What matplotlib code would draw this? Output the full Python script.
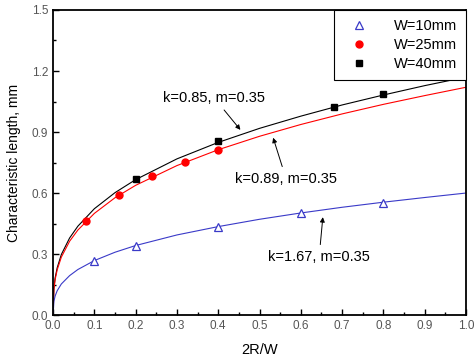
import numpy as np
import matplotlib
matplotlib.use("Agg")
import matplotlib.pyplot as plt
from matplotlib.ticker import MultipleLocator

plt.rcParams["font.family"] = ["Liberation Sans", "DejaVu Sans"]

# measured points
x10 = [0.1, 0.2, 0.4, 0.6, 0.8]
y10 = [0.266, 0.34, 0.431, 0.50, 0.553]
x25 = [0.08, 0.16, 0.24, 0.32, 0.40]
y25 = [0.462, 0.59, 0.682, 0.752, 0.813]
x40 = [0.2, 0.4, 0.68, 0.8]
y40 = [0.667, 0.856, 1.023, 1.087]

# fitted curves
xc = [0, 0.002, 0.005, 0.01, 0.02, 0.04, 0.06, 0.1, 0.15, 0.2, 0.3, 0.4,
      0.5, 0.6, 0.7, 0.8, 0.9, 1.0]
yc40 = [0, 0.133, 0.183, 0.233, 0.298, 0.379, 0.437, 0.523, 0.602, 0.666,
        0.768, 0.849, 0.918, 0.978, 1.033, 1.082, 1.128, 1.17]
yc25 = [0, 0.127, 0.175, 0.223, 0.285, 0.363, 0.418, 0.500, 0.577, 0.638,
        0.735, 0.813, 0.879, 0.937, 0.989, 1.036, 1.079, 1.12]
yc10 = [0, 0.068, 0.094, 0.120, 0.153, 0.194, 0.224, 0.268, 0.309, 0.342,
        0.394, 0.435, 0.471, 0.502, 0.530, 0.555, 0.578, 0.60]

blue = "#3a3ac8"

fig = plt.figure(figsize=(4.74, 3.63), dpi=100)
ax = fig.add_axes([0.112, 0.132, 0.871, 0.8405])

ax.plot(xc, yc40, color="black", lw=0.8)
ax.plot(xc, yc25, color="red", lw=0.8)
ax.plot(xc, yc10, color=blue, lw=0.8)

ax.plot(x10, y10, ls="none", marker="^", ms=6, mfc="white", mec=blue,
        mew=0.9, label="W=10mm")
ax.plot(x25, y25, ls="none", marker="o", ms=5, color="red", label="W=25mm")
ax.plot(x40, y40, ls="none", marker="s", ms=4.3, color="black", label="W=40mm")

ax.set_xlim(0, 1.0)
ax.set_ylim(0, 1.5)
ax.xaxis.set_major_locator(MultipleLocator(0.1))
ax.xaxis.set_minor_locator(MultipleLocator(0.05))
ax.yaxis.set_major_locator(MultipleLocator(0.3))
ax.yaxis.set_minor_locator(MultipleLocator(0.15))
ax.xaxis.set_major_formatter(plt.FormatStrFormatter("%.1f"))
ax.yaxis.set_major_formatter(plt.FormatStrFormatter("%.1f"))
ax.tick_params(which="both", direction="in", colors="black", labelcolor="#555555",
               labelsize=8.5, width=1.0)
ax.tick_params(which="major", length=4)
ax.tick_params(which="minor", length=2.5)
for s in ax.spines.values():
    s.set_linewidth(1.3)

ax.set_xlabel("2R/W", fontsize=10.5, labelpad=8)
ax.set_ylabel("Characteristic length, mm", fontsize=10, labelpad=8)

arrow = dict(arrowstyle="-|>", color="black", lw=0.7, mutation_scale=7)
ax.annotate("k=0.85, m=0.35", xy=(0.458, 0.900), xytext=(0.267, 1.067),
            fontsize=10.5, va="center", ha="left", arrowprops=arrow)
ax.annotate("k=0.89, m=0.35", xy=(0.531, 0.885), xytext=(0.441, 0.669),
            fontsize=10.5, va="center", ha="left", arrowprops=arrow)
ax.annotate("k=1.67, m=0.35", xy=(0.654, 0.495), xytext=(0.521, 0.285),
            fontsize=10.5, va="center", ha="left", arrowprops=arrow)

leg = ax.legend(loc="upper right", borderaxespad=0, fancybox=False,
                edgecolor="black", fontsize=10.5, handlelength=2.2,
                handletextpad=1.3, borderpad=0.6, labelspacing=0.35,
                framealpha=1)
leg.get_frame().set_linewidth(0.8)

fig.savefig("out.png", dpi=100)
